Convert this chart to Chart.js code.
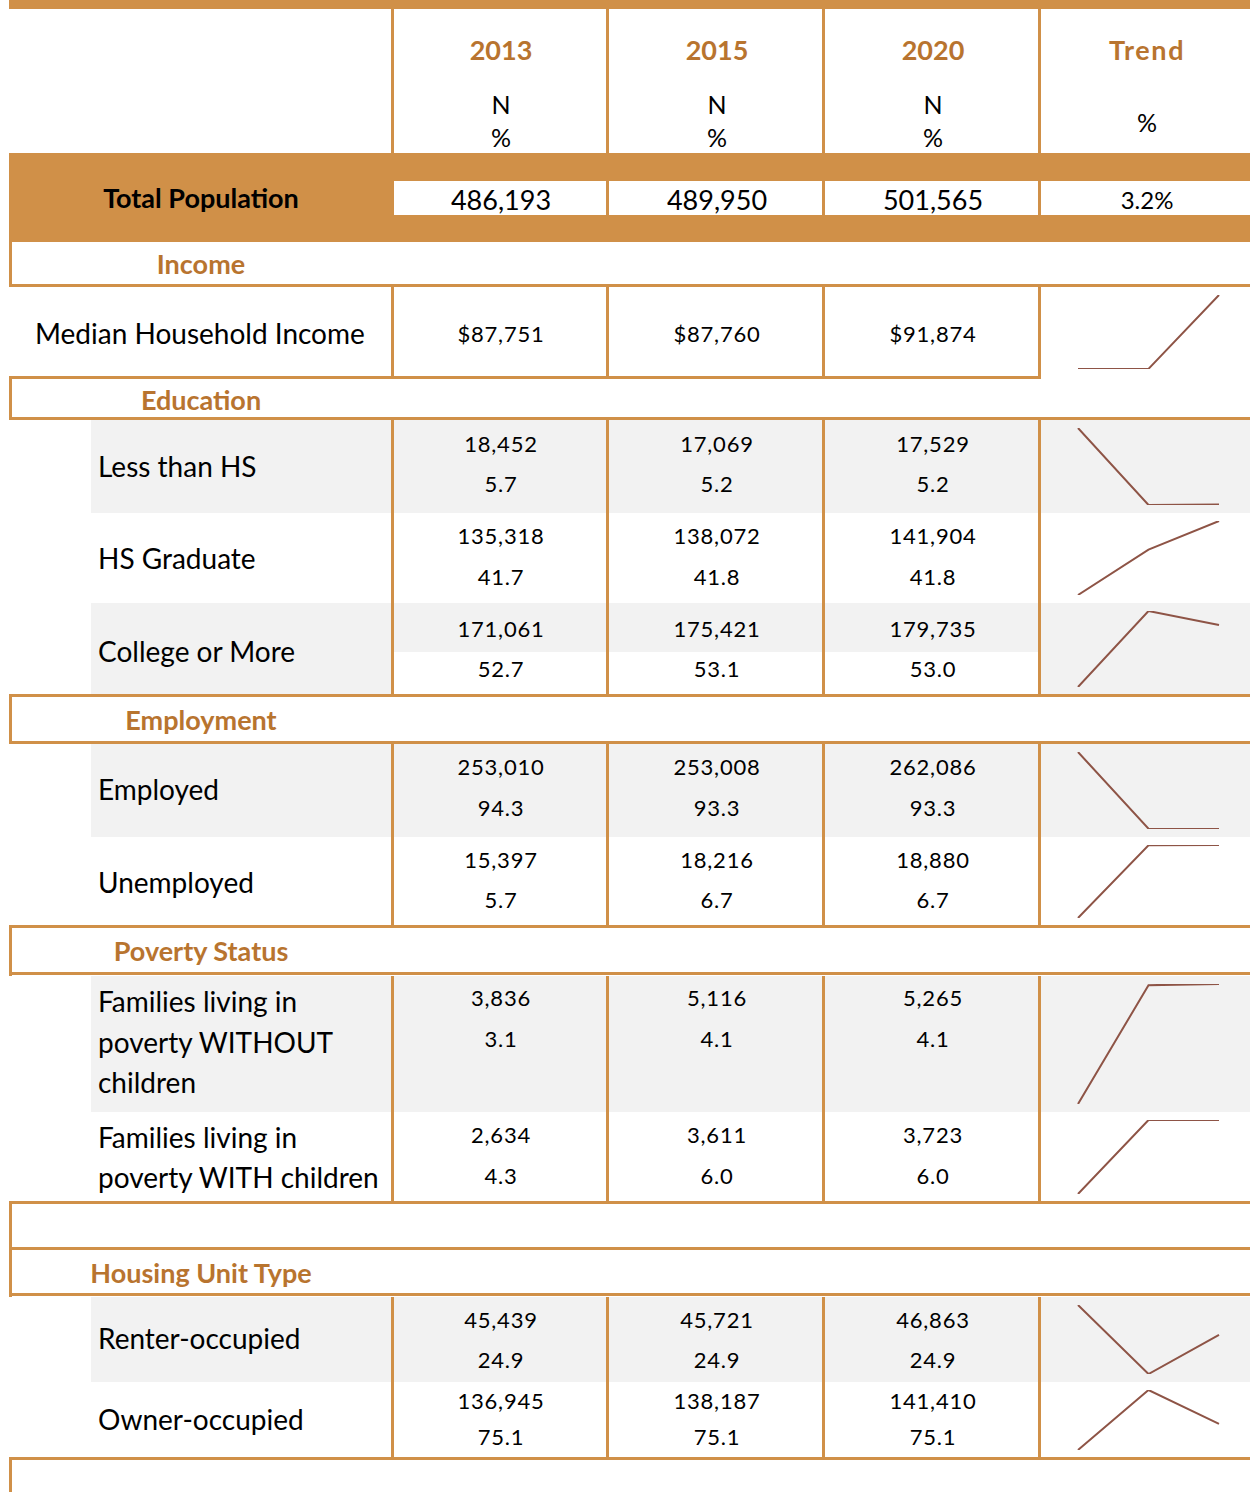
<!DOCTYPE html>
<html>
<head>
<meta charset="utf-8">
<script src="https://cdn.jsdelivr.net/npm/chart.js@4/dist/chart.umd.min.js"></script>
<style>
  html, body { margin: 0; padding: 0; background: #fff; }
  #sheet { position: relative; width: 1250px; height: 1492px; overflow: hidden; font-family: Lato, "Open Sans", sans-serif; color: #000; }
  .blk { position: absolute; }
  .txt { position: absolute; white-space: nowrap; }
</style>
</head>
<body>
<div id="sheet"></div>
<script>
// data
const years = ['2013', '2015', '2020'];
const totalPopulation = [486193, 489950, 501565];
const totalTrend = '3.2%';

const medianIncome = [87751, 87760, 91874];

const lessThanHsN = [18452, 17069, 17529];
const lessThanHsPct = [5.7, 5.2, 5.2];
const lessThanHsTrend = [5.680, 5.164, 5.168];

const hsGradN = [135318, 138072, 141904];
const hsGradPct = [41.7, 41.8, 41.8];
const hsGradTrend = [41.658, 41.769, 41.839];

const collegeN = [171061, 175421, 179735];
const collegePct = [52.7, 53.1, 53.0];
const collegeTrend = [52.662, 53.068, 52.993];

const employedN = [253010, 253008, 262086];
const employedPct = [94.3, 93.3, 93.3];
const employedTrend = [94.264, 93.284, 93.280];

const unemployedN = [15397, 18216, 18880];
const unemployedPct = [5.7, 6.7, 6.7];
const unemployedTrend = [5.736, 6.716, 6.720];

const povNoKidsN = [3836, 5116, 5265];
const povNoKidsPct = [3.1, 4.1, 4.1];
const povNoKidsTrend = [3.08, 4.11, 4.12];

const povKidsN = [2634, 3611, 3723];
const povKidsPct = [4.3, 6.0, 6.0];
const povKidsTrend = [4.31, 6.02, 6.02];

const renterN = [45439, 45721, 46863];
const renterPct = [24.9, 24.9, 24.9];
const renterTrend = [24.914, 24.861, 24.891];

const ownerN = [136945, 138187, 141410];
const ownerPct = [75.1, 75.1, 75.1];
const ownerTrend = [75.086, 75.139, 75.109];

// colours
const ORANGE = '#D09048';
const BROWN = '#B8742F';
const GRAY = '#F2F2F2';
const SPARK = '#8E5446';

const sheet = document.getElementById('sheet');
const colCenters = [501, 717, 933, 1147];
const fmt = n => n.toLocaleString('en-US');

function rect(x, y, w, h, color) {
    const d = document.createElement('div');
    d.className = 'blk';
    d.style.cssText = `left:${x}px;top:${y}px;width:${w}px;height:${h}px;background:${color}`;
    sheet.appendChild(d);
}

function text(str, x, y, size, opts = {}) {
    const d = document.createElement('div');
    d.className = 'txt';
    d.textContent = str;
    const h = size * 1.4;
    let pos = opts.left ? `left:${x}px;` : `left:${x - 200}px;width:400px;text-align:center;`;
    d.style.cssText = pos + `top:${y - h / 2}px;height:${h}px;line-height:${h}px;font-size:${size}px;` +
        `font-weight:${opts.bold ? 700 : 400};color:${opts.color || '#000'};letter-spacing:${opts.ls || 0}px`;
    sheet.appendChild(d);
}

// rows: section headers and data rows
const sections = [
    { name: 'Income', top: 242, bottom: 287, cy: 264 },
    { name: 'Education', top: 376, bottom: 420, cy: 400 },
    { name: 'Employment', top: 694, bottom: 744, cy: 720 },
    { name: 'Poverty Status', top: 925, bottom: 976, cy: 951 },
    { name: '', top: 1201, bottom: 1250, cy: 0 },
    { name: 'Housing Unit Type', top: 1247, bottom: 1297, cy: 1273 },
    { name: '', top: 1457, bottom: 1492, cy: 0 }
];

const dataRows = [
    { lines: ['Median Household Income'], lx: 35, ly: [334], top: 287, bottom: 377, gray: false,
      n: medianIncome.map(v => '$' + fmt(v)), p: null, vy: [334], trend: medianIncome },
    { lines: ['Less than HS'], lx: 98, ly: [467], top: 420, bottom: 513, gray: true,
      n: lessThanHsN.map(fmt), p: lessThanHsPct, vy: [444, 484], trend: lessThanHsTrend },
    { lines: ['HS Graduate'], lx: 98, ly: [559], top: 513, bottom: 603, gray: false,
      n: hsGradN.map(fmt), p: hsGradPct, vy: [536, 577], trend: hsGradTrend },
    { lines: ['College or More'], lx: 98, ly: [652], top: 603, bottom: 695, gray: true, split: 652,
      n: collegeN.map(fmt), p: collegePct, vy: [629, 669], trend: collegeTrend },
    { lines: ['Employed'], lx: 98, ly: [790], top: 744, bottom: 837, gray: true,
      n: employedN.map(fmt), p: employedPct, vy: [767, 808], trend: employedTrend },
    { lines: ['Unemployed'], lx: 98, ly: [883], top: 837, bottom: 926, gray: false,
      n: unemployedN.map(fmt), p: unemployedPct, vy: [860, 900], trend: unemployedTrend },
    { lines: ['Families living in', 'poverty WITHOUT', 'children'], lx: 98, ly: [1002, 1043, 1083], top: 976, bottom: 1112, gray: true,
      n: povNoKidsN.map(fmt), p: povNoKidsPct, vy: [998, 1039], trend: povNoKidsTrend },
    { lines: ['Families living in', 'poverty WITH children'], lx: 98, ly: [1138, 1178], top: 1112, bottom: 1202, gray: false,
      n: povKidsN.map(fmt), p: povKidsPct, vy: [1135, 1176], trend: povKidsTrend },
    { lines: ['Renter-occupied'], lx: 98, ly: [1339], top: 1297, bottom: 1382, gray: true,
      n: renterN.map(fmt), p: renterPct, vy: [1320, 1360], trend: renterTrend },
    { lines: ['Owner-occupied'], lx: 98, ly: [1420], top: 1382, bottom: 1458, gray: false,
      n: ownerN.map(fmt), p: ownerPct, vy: [1401, 1437], trend: ownerTrend }
];

// fills
dataRows.forEach(r => {
    if (r.gray) rect(91, r.top, 1159, r.bottom - r.top, GRAY);
    if (r.split) rect(394, r.split, 644, r.bottom - r.split, '#fff');
});

// total population band
rect(9, 153, 1241, 89, ORANGE);
[[394, 212], [609, 213], [825, 213], [1041, 209]].forEach(([x, w]) => rect(x, 181, w, 34, '#fff'));

// horizontal borders
rect(9, 0, 1241, 9, ORANGE);
[284, 417, 694, 741, 925, 972, 1201, 1247, 1293, 1457].forEach(y => rect(9, y, 1241, 3, ORANGE));
rect(9, 376, 1032, 3, ORANGE);

// left borders of section boxes
sections.forEach(s => rect(9, s.top, 3, s.bottom - s.top, ORANGE));

// vertical borders
const vSpans = [[9, 153], [287, 379], [420, 697], [744, 928], [976, 1204], [1297, 1460]];
[391, 606, 822, 1038].forEach(x => vSpans.forEach(([a, b]) => rect(x, a, 3, b - a, ORANGE)));

// header
years.forEach((y, i) => {
    text(y, colCenters[i], 50, 27, { bold: true, color: BROWN });
    text('N', colCenters[i], 104, 25);
    text('%', colCenters[i], 137, 25);
});
text('Trend', colCenters[3], 50, 27, { bold: true, color: BROWN, ls: 1.6 });
text('%', colCenters[3], 122, 25);

// total population
text('Total Population', 201, 198, 27, { bold: true });
totalPopulation.forEach((v, i) => text(fmt(v), colCenters[i], 200, 27));
text(totalTrend, colCenters[3], 200, 24);

// section titles
sections.forEach(s => { if (s.name) text(s.name, 201, s.cy, 27, { bold: true, color: BROWN }); });

// data rows
dataRows.forEach(r => {
    r.lines.forEach((l, k) => text(l, r.lx, r.ly[k], 28, { left: true }));
    r.n.forEach((v, i) => {
        text(v, colCenters[i], r.vy[0], 22, { ls: 0.8 });
        if (r.p) text(r.p[i].toFixed(1), colCenters[i], r.vy[1], 22, { ls: 0.8 });
    });
});

// sparklines
dataRows.forEach(r => {
    const h = r.bottom - r.top;
    const canvas = document.createElement('canvas');
    canvas.width = 209;
    canvas.height = h;
    canvas.style.cssText = `position:absolute;left:1041px;top:${r.top}px;width:209px;height:${h}px`;
    sheet.appendChild(canvas);
    new Chart(canvas.getContext('2d'), {
        type: 'line',
        data: {
            labels: years,
            datasets: [{
                data: r.trend,
                borderColor: SPARK,
                borderWidth: 2,
                pointRadius: 0,
                tension: 0,
                fill: false
            }]
        },
        options: {
            responsive: false,
            animation: false,
            layout: { padding: { left: 37, right: 31, top: 8, bottom: 8 } },
            plugins: { legend: { display: false }, tooltip: { enabled: false } },
            scales: {
                x: { display: false },
                y: { display: false, min: Math.min(...r.trend), max: Math.max(...r.trend) }
            }
        }
    });
});
</script>
</body>
</html>
